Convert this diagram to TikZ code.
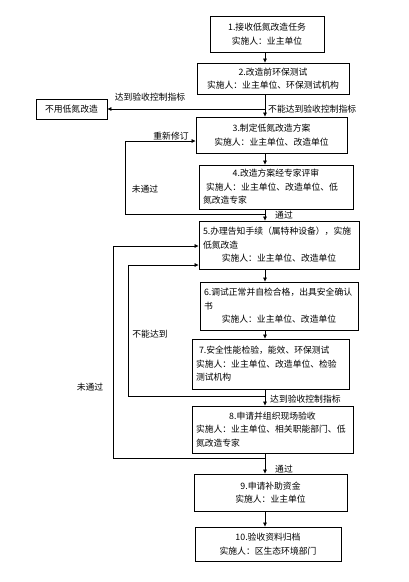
\documentclass[tikz,border=0pt]{standalone}
\usepackage{fontspec}
\setmainfont{Noto Sans CJK SC}
\usetikzlibrary{positioning,arrows.meta,calc}
\newcommand{\ctrline}[1]{\hspace*{\fill}#1\hspace*{\fill}\mbox{}}

\begin{document}
\begin{tikzpicture}[
  x=1pt, y=-1pt,
  stage/.style={draw, line width=0.9pt, inner xsep=4pt, inner ysep=0pt, align=left, font=\fontsize{8.8}{13.5}\selectfont},
  note/.style={inner sep=1pt, font=\fontsize{8.8}{10}\selectfont},
  arr/.style={-{Triangle[length=4pt,width=3.6pt]}, line width=0.7pt},
]
\useasboundingbox (0,0) rectangle (408,582);

% main column
\node[stage, text width=106pt, minimum height=36pt] (s1) at (267,34) {\ctrline{1.接收低氮改造任务}\\ \ctrline{实施人：业主单位}};
\node[stage, text width=144pt, minimum height=31pt] (s2) at (273,78.5) {\ctrline{2.改造前环保测试}\\ \ctrline{实施人：业主单位、环保测试机构}};
\node[stage, text width=63pt, minimum height=20pt] (s0) at (71.5,109) {\ctrline{不用低氮改造}};
\node[stage, text width=143pt, minimum height=36pt] (s3) at (271.5,135) {\ctrline{3.制定低氮改造方案}\\ \ctrline{实施人：业主单位、改造单位}};
\node[stage, text width=146pt, minimum height=44pt] (s4) at (276,187) {\ctrline{4.改造方案经专家评审}\\ \hspace*{3pt}实施人：业主单位、改造单位、低\\ 氮改造专家};
\node[stage, text width=152pt, minimum height=48pt] (s5) at (279,245) {5.办理告知手续（属特种设备），实施\\ 低氮改造\\ \ctrline{实施人：业主单位、改造单位}};
\node[stage, text width=150pt, minimum height=48pt] (s6) at (279,306) {6.调试正常并自检合格，出具安全确认\\ 书\\ \ctrline{实施人：业主单位、改造单位}};
\node[stage, text width=149pt, minimum height=50pt] (s7) at (270.5,364) {\hspace*{3pt}7.安全性能检验，能效、环保测试\\ 实施人：业主单位、改造单位、检验\\ 测试机构};
\node[stage, text width=153pt, minimum height=47pt] (s8) at (272.5,429.5) {\ctrline{8.申请并组织现场验收}\\ 实施人：业主单位、相关职能部门、低\\ 氮改造专家};
\node[stage, text width=145pt, minimum height=37pt] (s9) at (270.5,492.5) {\ctrline{9.申请补助资金}\\ \ctrline{实施人：业主单位}};
\node[stage, text width=138pt, minimum height=34pt] (s10) at (268,544) {\ctrline{10.验收资料归档}\\ \ctrline{实施人：区生态环境部门}};

% junctions
\coordinate (spine) at (265,0);
\coordinate (fork) at (265,109);
\coordinate (pass4) at (265,214);
\coordinate (back4) at (125,141);
\coordinate (pass7) at (265,396);
\coordinate (back7) at (128,265);
\coordinate (pass8) at (265,458);
\coordinate (back8) at (113,246);

% flow
\draw[arr] (s1.south -| spine) -- (s2.north -| spine);
\draw[arr] (s2.south -| spine) -- (s3.north -| spine);
\draw[arr] (fork) -- (s0.east);
\draw[arr] (s3.south -| spine) -- (s4.north -| spine);
\draw[arr] (s4.south -| spine) -- (s5.north -| spine);
\draw[arr] (pass4) -| (back4) -- (back4 -| s3.west);
\draw[arr] (s5.south -| spine) -- (s6.north -| spine);
\draw[arr] (s6.south -| spine) -- (s7.north -| spine);
\draw[arr] (pass7) -| (back7) -- (back7 -| s5.west);
\draw[arr] (s7.south -| spine) -- (s8.north -| spine);
\draw[arr] (pass8) -| (back8) -- (back8 -| s5.west);
\draw[arr] (s8.south -| spine) -- (s9.north -| spine);
\draw[arr] (s9.south -| spine) -- (s10.north -| spine);

% labels
\node[note] (reach2) at (150,97) {达到验收控制指标};
\node[note, anchor=west] (miss2) at (267,109) {不能达到验收控制指标};
\node[note] (revise) at (171,136) {重新修订};
\node[note] (fail4) at (145,189) {未通过};
\node[note, anchor=west] (ok4) at (274,215) {通过};
\node[note] (miss7) at (150,334) {不能达到};
\node[note, anchor=west] (reach7) at (269,399) {达到验收控制指标};
\node[note] (fail8) at (90,387) {未通过};
\node[note, anchor=west] (ok8) at (274,469) {通过};
\end{tikzpicture}
\end{document}
